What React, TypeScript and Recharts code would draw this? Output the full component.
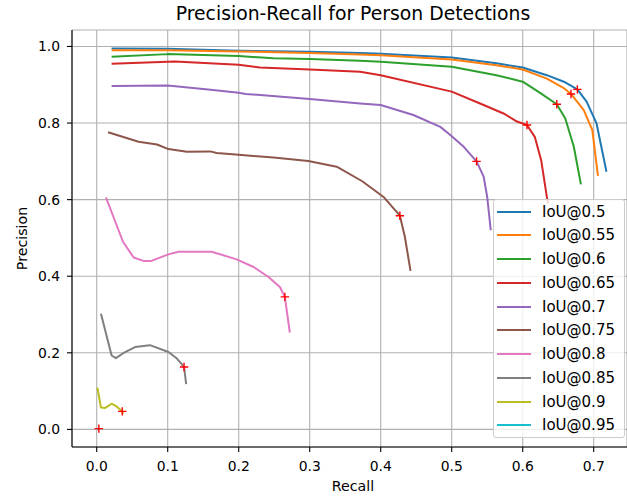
import React from 'react';
import { ComposedChart, Line, XAxis, YAxis, CartesianGrid, Label } from 'recharts';

type P = [number, number];

const seriesNames = ['IoU@0.5', 'IoU@0.55', 'IoU@0.6', 'IoU@0.65', 'IoU@0.7', 'IoU@0.75', 'IoU@0.8', 'IoU@0.85', 'IoU@0.9', 'IoU@0.95'];
const seriesColors = ['#1f77b4', '#ff7f0e', '#2ca02c', '#d62728', '#9467bd', '#8c564b', '#e377c2', '#7f7f7f', '#bcbd22', '#17becf'];

const iou50: P[] = [[0.021, 0.995], [0.1, 0.994], [0.2, 0.989], [0.3, 0.986], [0.371, 0.983], [0.4, 0.981], [0.5, 0.971], [0.563, 0.956], [0.6, 0.945], [0.634, 0.925], [0.658, 0.908], [0.677, 0.888], [0.69, 0.856], [0.704, 0.799], [0.718, 0.673]];
const iou55: P[] = [[0.021, 0.99], [0.1, 0.99], [0.2, 0.987], [0.3, 0.983], [0.371, 0.979], [0.4, 0.977], [0.5, 0.966], [0.563, 0.951], [0.6, 0.94], [0.634, 0.916], [0.658, 0.891], [0.668, 0.876], [0.686, 0.834], [0.698, 0.782], [0.706, 0.662]];
const iou60: P[] = [[0.021, 0.973], [0.1, 0.98], [0.2, 0.975], [0.249, 0.969], [0.3, 0.967], [0.371, 0.963], [0.4, 0.96], [0.5, 0.947], [0.563, 0.925], [0.6, 0.908], [0.625, 0.878], [0.648, 0.849], [0.66, 0.812], [0.672, 0.738], [0.682, 0.64]];
const iou65: P[] = [[0.021, 0.955], [0.11, 0.961], [0.2, 0.952], [0.23, 0.945], [0.3, 0.94], [0.371, 0.934], [0.4, 0.925], [0.5, 0.882], [0.54, 0.851], [0.573, 0.825], [0.592, 0.804], [0.606, 0.795], [0.617, 0.764], [0.626, 0.703], [0.634, 0.607], [0.636, 0.59]];
const iou70: P[] = [[0.021, 0.897], [0.1, 0.898], [0.164, 0.886], [0.2, 0.879], [0.21, 0.876], [0.3, 0.863], [0.371, 0.851], [0.4, 0.847], [0.446, 0.821], [0.484, 0.79], [0.498, 0.769], [0.517, 0.738], [0.535, 0.7], [0.545, 0.66], [0.55, 0.607], [0.555, 0.52]];
const iou75: P[] = [[0.016, 0.776], [0.059, 0.751], [0.085, 0.744], [0.101, 0.732], [0.127, 0.725], [0.16, 0.726], [0.169, 0.722], [0.2, 0.717], [0.249, 0.71], [0.298, 0.701], [0.338, 0.686], [0.374, 0.648], [0.404, 0.607], [0.427, 0.558], [0.434, 0.503], [0.442, 0.414]];
const iou80: P[] = [[0.013, 0.606], [0.037, 0.49], [0.052, 0.449], [0.066, 0.44], [0.077, 0.44], [0.101, 0.457], [0.115, 0.464], [0.162, 0.464], [0.197, 0.444], [0.221, 0.424], [0.242, 0.398], [0.258, 0.372], [0.265, 0.346], [0.272, 0.253]];
const iou85: P[] = [[0.006, 0.302], [0.021, 0.193], [0.027, 0.186], [0.04, 0.202], [0.054, 0.215], [0.075, 0.22], [0.101, 0.202], [0.113, 0.185], [0.123, 0.163], [0.126, 0.118]];
const iou90: P[] = [[0.001, 0.109], [0.006, 0.057], [0.012, 0.056], [0.021, 0.067], [0.028, 0.06], [0.036, 0.047], [0.037, 0.04]];
const iou95: P[] = [[0.001, 0.003], [0.003, 0.0]];

const operatingPoints: P[] = [[0.677, 0.888], [0.668, 0.876], [0.648, 0.849], [0.606, 0.795], [0.535, 0.7], [0.427, 0.558], [0.265, 0.346], [0.123, 0.163], [0.036, 0.047], [0.003, 0.002]];

const xTicks = [0, 0.1, 0.2, 0.3, 0.4, 0.5, 0.6, 0.7];
const yTicks = [0, 0.2, 0.4, 0.6, 0.8, 1.0];
const xDomain: [number, number] = [-0.0348, 0.7469];
const yDomain: [number, number] = [-0.046, 1.043];

const allSeries = [iou50, iou55, iou60, iou65, iou70, iou75, iou80, iou85, iou90, iou95];
const toPts = (arr: P[]) => arr.map(([x, y]) => ({ x, y }));

const FONT = 'DejaVu Sans, sans-serif';

const renderPlus = (props: any) => {
  const { cx, cy, index } = props;
  if (cx == null || cy == null) return <g key={index} />;
  const r = 4.2;
  return (
    <path
      key={index}
      d={`M${cx - r},${cy}H${cx + r}M${cx},${cy - r}V${cy + r}`}
      stroke="#ff0000"
      strokeWidth={1.4}
      fill="none"
    />
  );
};

const yLabelContent = (props: any) => {
  const vb = props.viewBox || { x: 0, y: 30, width: 72, height: 417 };
  const cx = 22;
  const cy = vb.y + vb.height / 2;
  return (
    <text x={cx} y={cy} transform={`rotate(-90 ${cx} ${cy})`} textAnchor="middle" dominantBaseline="central" fontFamily={FONT} fontSize={14.2} fill="#000">
      Precision
    </text>
  );
};

const xLabelContent = () => (
  <text x={353} y={486} textAnchor="middle" dominantBaseline="central" fontFamily={FONT} fontSize={14.2} fill="#000">
    Recall
  </text>
);

export default function App() {
  const tickStyle = { fill: '#000', fontSize: 13.9, fontFamily: FONT };
  return (
    <div style={{ position: 'absolute', left: 0, top: 0, width: 627, height: 499, overflow: 'hidden', background: '#fff', fontFamily: FONT }}>
      <div style={{ position: 'absolute', left: 0, top: 0, width: 706, height: 27, lineHeight: '27px', textAlign: 'center', fontSize: 18.8, color: '#000', fontFamily: FONT, whiteSpace: 'nowrap' }}>
        Precision-Recall for Person Detections
      </div>
      <ComposedChart width={627} height={499} margin={{ top: 30, right: 0, bottom: 0, left: 0 }}>
        <CartesianGrid stroke="#b0b0b0" strokeWidth={1.1} />
        <XAxis
          dataKey="x"
          type="number"
          domain={xDomain}
          allowDataOverflow
          ticks={xTicks}
          interval={0}
          tickFormatter={(v: number) => v.toFixed(1)}
          height={52}
          tick={tickStyle}
          tickSize={5}
          tickMargin={9}
          stroke="#000"
          axisLine={{ stroke: '#000', strokeWidth: 1.1 }}
          tickLine={{ stroke: '#000', strokeWidth: 1.1 }}
        >
          <Label content={xLabelContent} />
        </XAxis>
        <XAxis
          xAxisId="top"
          orientation="top"
          dataKey="x"
          type="number"
          domain={xDomain}
          allowDataOverflow
          height={0}
          tick={false}
          tickLine={false}
          axisLine={{ stroke: '#000', strokeWidth: 1.1 }}
        />
        <YAxis
          type="number"
          domain={yDomain}
          allowDataOverflow
          ticks={yTicks}
          interval={0}
          tickFormatter={(v: number) => v.toFixed(1)}
          width={72}
          tick={tickStyle}
          tickSize={5}
          tickMargin={7}
          stroke="#000"
          axisLine={{ stroke: '#000', strokeWidth: 1.1 }}
          tickLine={{ stroke: '#000', strokeWidth: 1.1 }}
        >
          <Label content={yLabelContent} />
        </YAxis>
        {allSeries.map((s, i) => (
          <Line
            key={seriesNames[i]}
            name={seriesNames[i]}
            data={toPts(s)}
            dataKey="y"
            type="linear"
            stroke={seriesColors[i]}
            strokeWidth={2}
            strokeLinejoin="round"
            dot={false}
            activeDot={false}
            isAnimationActive={false}
          />
        ))}
        <Line
          name="operating points"
          data={toPts(operatingPoints)}
          dataKey="y"
          stroke="none"
          dot={renderPlus}
          activeDot={false}
          legendType="none"
          isAnimationActive={false}
        />
      </ComposedChart>
      <div
        style={{
          position: 'absolute',
          left: 493,
          top: 199,
          width: 132,
          height: 239,
          boxSizing: 'border-box',
          border: '1px solid #cccccc',
          borderRadius: 3,
          background: 'rgba(255,255,255,0.8)',
        }}
      >
        {seriesNames.map((n, i) => (
          <div key={n} style={{ position: 'absolute', left: 0, top: 11.7 + i * 23.73 - 10, height: 20, width: 132 }}>
            <div style={{ position: 'absolute', left: 3, top: 9, width: 34, height: 2, background: seriesColors[i] }} />
            <div style={{ position: 'absolute', left: 48, top: 0, height: 20, lineHeight: '20px', fontSize: 15, color: '#000', fontFamily: FONT, whiteSpace: 'nowrap' }}>
              {n}
            </div>
          </div>
        ))}
      </div>
    </div>
  );
}
